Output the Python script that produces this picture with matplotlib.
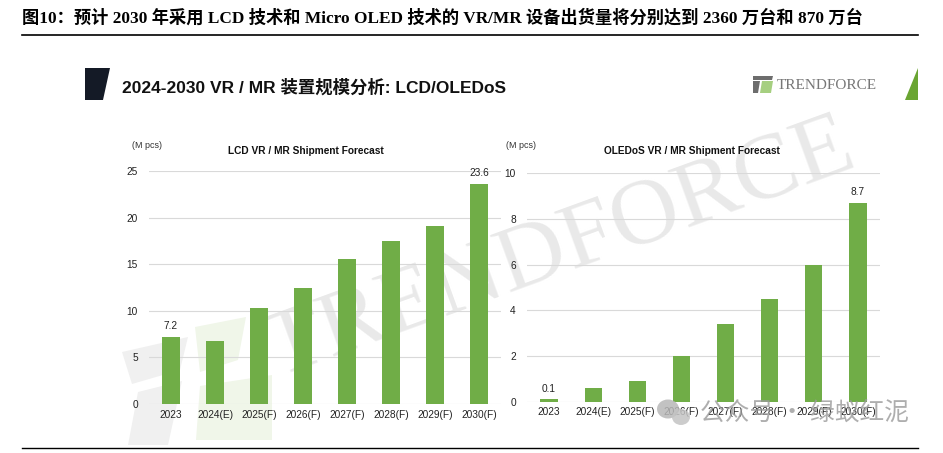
import matplotlib
matplotlib.use("Agg")
import matplotlib.pyplot as plt
from matplotlib.patches import Polygon, Ellipse

plt.rcParams['font.family'] = ['Liberation Sans', 'Noto Sans CJK SC', 'DejaVu Sans']

categories = ["2023", "2024(E)", "2025(F)", "2026(F)", "2027(F)", "2028(F)", "2029(F)", "2030(F)"]
lcd_values = [7.2, 6.8, 10.3, 12.4, 15.6, 17.5, 19.1, 23.6]
oled_values = [0.1, 0.6, 0.9, 2.0, 3.4, 4.5, 6.0, 8.7]
lcd_ticks = [0, 5, 10, 15, 20, 25]
oled_ticks = [0, 2, 4, 6, 8, 10]
lcd_title = "LCD VR / MR Shipment Forecast"
oled_title = "OLEDoS VR / MR Shipment Forecast"
unit_label = "(M pcs)"
header = "图10：预计 2030 年采用 LCD 技术和 Micro OLED 技术的 VR/MR 设备出货量将分别达到 2360 万台和 870 万台"
slide_title = "2024-2030 VR / MR 装置规模分析: LCD/OLEDoS"

W, H = 943, 453
fig = plt.figure(figsize=(W / 100, H / 100), dpi=100)
fig.patch.set_facecolor("white")

def fx(x):
    return x / W

def fy(y):
    return 1 - y / H

def poly(pts, color, z=0):
    fig.add_artist(Polygon([(fx(a), fy(b)) for a, b in pts], closed=True, color=color, zorder=z, lw=0))

GREEN = "#70AD47"

# header
fig.text(fx(22), fy(18), header, fontsize=12.4, fontweight="bold",
         family=['Liberation Serif', 'Noto Sans CJK SC'], va="center", ha="left", color="black")
fig.add_artist(plt.Line2D([fx(22), fx(918)], [fy(35), fy(35)], color="black", lw=1.2))
fig.add_artist(plt.Line2D([fx(22), fx(918)], [fy(448), fy(448)], color="black", lw=1.0))

# faint watermark logo (lower left)
poly([(122, 352), (188, 337), (180, 370), (132, 384)], "#f0f0f0")
poly([(138, 392), (182, 381), (168, 445), (128, 445)], "#f0f0f0")
poly([(195, 327), (246, 317), (238, 360), (200, 372)], "#f0f6e9")
poly([(200, 386), (272, 375), (272, 440), (196, 440)], "#f0f6e9")
# faint watermark text
fig.text(fx(560), fy(250), "TRENDFORCE", fontsize=68, family="Liberation Serif",
         color="#e9e9e9", rotation=20, ha="center", va="center", zorder=0)

# slide decor
poly([(85, 68), (110, 68), (103, 100), (85, 100)], "#141a26", 3)
poly([(918, 68), (918, 100), (905, 100)], "#6aa532", 3)
fig.text(fx(122), fy(87), slide_title, fontsize=12.5, fontweight="bold",
         family=['Liberation Sans', 'Noto Sans CJK SC'], va="center", ha="left", color="#111111")

# TrendForce logo
poly([(753, 76), (773, 76), (772, 80), (753, 80)], "#6d6d6d", 3)
poly([(753, 81), (760, 81), (758, 93), (753, 93)], "#6d6d6d", 3)
poly([(762, 81), (773, 81), (771, 93), (760, 93)], "#a6cf80", 3)
fig.text(fx(777), fy(85.5), "TRENDFORCE", fontsize=11, family="Liberation Serif",
         color="#777777", va="center", ha="left")


def draw(ax, values, ticks, title, unit_xy, title_x):
    x = list(range(len(categories)))
    ax.bar(x, values, width=0.39, color=GREEN, zorder=3)
    ax.set_xlim(-0.5, len(categories) - 0.5)
    ax.set_ylim(ticks[0], ticks[-1])
    ax.set_yticks(ticks)
    ax.set_yticklabels([str(t) for t in ticks])
    ax.set_xticks(x)
    ax.set_xticklabels(categories)
    ax.tick_params(axis="both", length=0, labelsize=7.3, colors="#222222")
    ax.tick_params(axis="y", pad=8)
    ax.tick_params(axis="x", pad=4)
    ax.grid(axis="y", color="#d9d9d9", lw=0.8, zorder=0)
    for s in ax.spines.values():
        s.set_visible(False)
    ax.set_facecolor("none")
    ax.set_zorder(2)
    for i in (0, len(values) - 1):
        ax.annotate(f"{values[i]}", (x[i], values[i]), xytext=(0, 4), textcoords="offset points",
                    ha="center", va="bottom", fontsize=7.3, color="#222222")
    fig.text(fx(unit_xy[0]), fy(unit_xy[1]), unit_label, fontsize=6.5, color="#333333",
             ha="left", va="center")
    fig.text(fx(title_x), fy(151), title, fontsize=7.3, fontweight="bold", color="#111111",
             ha="center", va="center")


ax1 = fig.add_axes([fx(149), fy(404), fx(352), 233 / H])
draw(ax1, lcd_values, lcd_ticks, lcd_title, (132, 146), 306)
ax2 = fig.add_axes([fx(527), fy(401.7), fx(353), 228.4 / H])
draw(ax2, oled_values, oled_ticks, oled_title, (506, 146), 692)

# WeChat watermark (on top)
fig.add_artist(Ellipse((fx(668), fy(409)), fx(22), 19 / H, color="#b8b8b8", alpha=0.85, zorder=10, lw=0))
fig.add_artist(Ellipse((fx(681), fy(417)), fx(18), 16 / H, color="#c4c4c4", alpha=0.85, zorder=10, lw=0))
fig.text(fx(700), fy(413), "公众号 · 绿蚁红泥", fontsize=17.8,
         family=['Noto Sans CJK SC', 'DejaVu Sans'], color="#9a9a9a", alpha=0.8,
         va="center", ha="left", zorder=10)

fig.savefig("out.png", dpi=100)
